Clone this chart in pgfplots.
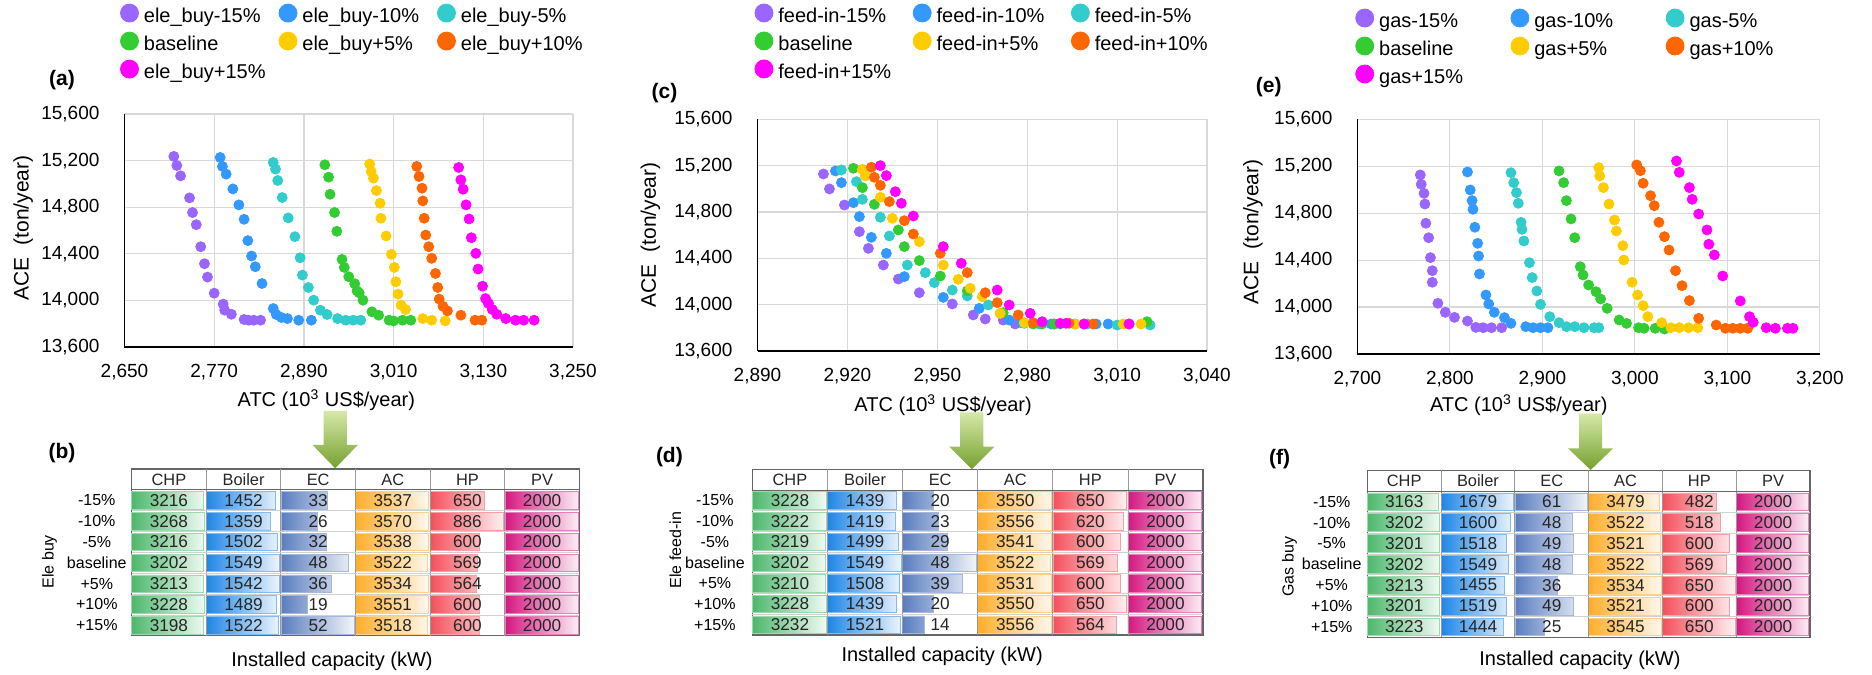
\documentclass[border=0pt]{standalone}
\usepackage{pgfplots}
\pgfplotsset{compat=1.18}
\usepackage{pgfplotstable}
\usepackage{fontspec}
\setmainfont{Liberation Sans}

\definecolor{cP}{HTML}{9966FF}
\definecolor{cB}{HTML}{3399FF}
\definecolor{cC}{HTML}{33CCCC}
\definecolor{cG}{HTML}{33CC33}
\definecolor{cY}{HTML}{FFCC00}
\definecolor{cO}{HTML}{FF6600}
\definecolor{cM}{HTML}{FF00FF}
\definecolor{tCHP}{HTML}{4DB86C}
\definecolor{tBoil}{HTML}{1E86E6}
\definecolor{tEC}{HTML}{5A7DBF}
\definecolor{tAC}{HTML}{FFAD2A}
\definecolor{tHP}{HTML}{F4505B}
\definecolor{tPV}{HTML}{D4177F}
\definecolor{arTop}{HTML}{D6E8A8}
\definecolor{arBot}{HTML}{74A12E}

\pgfplotsset{
  scat/.style={
    scale only axis,
    axis x line*=bottom, axis y line*=left,
    axis line style={black, line width=0.8pt},
    grid=major, grid style={black!15, line width=0.6pt},
    major tick length=0pt,
    ymin=13600, ymax=15600, ytick={13600,14000,14400,14800,15200,15600},
    scaled ticks=false,
    /pgf/number format/1000 sep={,},
    /pgf/number format/assume math mode=true,
    ticklabel style={font=\fontsize{9.5}{11}\selectfont},
    yticklabel style={xshift=-9pt},
    xticklabel style={yshift=-5.3pt},
    xlabel={ATC (10\textsuperscript{3} US\$/year)},
    ylabel={ACE\hspace{0.3em} (ton/year)},
    xlabel style={font=\fontsize{10}{12}\selectfont, anchor=center},
    ylabel style={font=\fontsize{10.5}{12}\selectfont, anchor=center},
    legend columns=3,
    legend style={draw=none, fill=none, inner sep=0pt, column sep=0pt, row sep=-0.9pt, anchor=north west,
      nodes={inner sep=2.7pt, text height=7.5pt, text depth=2pt, align=left, font=\fontsize{10}{12}\selectfont}},
  },
  mk/.style={only marks, mark=*, mark size=2.5pt, color=#1, mark options={draw=none, fill=#1},
    legend image code/.code={\draw[##1, /tikz/mark size=4.5pt] plot coordinates {(4.4pt,2.2pt)};}},
  tbl/.style={
    scale only axis,
    xmin=0, xmax=6, ymin=0, ymax=8,
    xbar stacked, bar width=0.84,
    axis line style={draw=black!60, line width=0.6pt},
    xtick=\empty,
    ytick={0.5,1.5,2.5,3.5,4.5,5.5,6.5},
    yticklabels={+15\%,+10\%,+5\%,baseline,-5\%,-10\%,-15\%},
    major tick length=0pt,
    yticklabel style={anchor=center, font=\fontsize{8}{9.6}\selectfont},
    clip=false,
  },
}
\tikzset{tn/.style={font=\fontsize{8.6}{9.6}\selectfont, text=black!85, inner sep=0pt},
         th/.style={font=\fontsize{8.2}{9.6}\selectfont, text=black!85, inner sep=0pt}}

\newcommand{\databar}[4]{%
  \addplot[draw=#4!55!white, line width=0.25pt, left color=#4, right color=#4!8!white]
     table[y=pos, x expr={0.98*\thisrow{#2}/#3}] {#1};
  \addplot[draw=none, fill=none] table[y=pos, x expr={1-0.98*\thisrow{#2}/#3}] {#1};
}
\newcommand{\trow}[7]{%
  \node[tn] at (axis cs:0.5,#1) {#2};
  \node[tn] at (axis cs:1.5,#1) {#3};
  \node[tn] at (axis cs:2.5,#1) {#4};
  \node[tn] at (axis cs:3.5,#1) {#5};
  \node[tn] at (axis cs:4.5,#1) {#6};
  \node[tn] at (axis cs:5.5,#1) {#7};
}
\newcommand{\tframe}{%
  \draw[black!40, line width=0.4pt] (axis cs:1,0) -- (axis cs:1,8);
  \draw[black!40, line width=0.4pt] (axis cs:2,0) -- (axis cs:2,8);
  \draw[black!40, line width=0.4pt] (axis cs:3,0) -- (axis cs:3,8);
  \draw[black!40, line width=0.4pt] (axis cs:4,0) -- (axis cs:4,8);
  \draw[black!40, line width=0.4pt] (axis cs:5,0) -- (axis cs:5,8);
  \draw[black!18, line width=0.3pt] (axis cs:0,1) -- (axis cs:6,1);
  \draw[black!18, line width=0.3pt] (axis cs:0,2) -- (axis cs:6,2);
  \draw[black!18, line width=0.3pt] (axis cs:0,3) -- (axis cs:6,3);
  \draw[black!18, line width=0.3pt] (axis cs:0,4) -- (axis cs:6,4);
  \draw[black!18, line width=0.3pt] (axis cs:0,5) -- (axis cs:6,5);
  \draw[black!18, line width=0.3pt] (axis cs:0,6) -- (axis cs:6,6);
  \draw[black!60, line width=0.5pt] (axis cs:0,7) -- (axis cs:6,7);
  \node[th] at (axis cs:0.5,7.5) {CHP};
  \node[th] at (axis cs:1.5,7.5) {Boiler};
  \node[th] at (axis cs:2.5,7.5) {EC};
  \node[th] at (axis cs:3.5,7.5) {AC};
  \node[th] at (axis cs:4.5,7.5) {HP};
  \node[th] at (axis cs:5.5,7.5) {PV};
}
\newcommand{\cellsB}{%
  \tframe
  \trow{6.5}{3216}{1452}{33}{3537}{650}{2000}
  \trow{5.5}{3268}{1359}{26}{3570}{886}{2000}
  \trow{4.5}{3216}{1502}{32}{3538}{600}{2000}
  \trow{3.5}{3202}{1549}{48}{3522}{569}{2000}
  \trow{2.5}{3213}{1542}{36}{3534}{564}{2000}
  \trow{1.5}{3228}{1489}{19}{3551}{600}{2000}
  \trow{0.5}{3198}{1522}{52}{3518}{600}{2000}
}
\newcommand{\cellsD}{%
  \tframe
  \trow{6.5}{3228}{1439}{20}{3550}{650}{2000}
  \trow{5.5}{3222}{1419}{23}{3556}{620}{2000}
  \trow{4.5}{3219}{1499}{29}{3541}{600}{2000}
  \trow{3.5}{3202}{1549}{48}{3522}{569}{2000}
  \trow{2.5}{3210}{1508}{39}{3531}{600}{2000}
  \trow{1.5}{3228}{1439}{20}{3550}{650}{2000}
  \trow{0.5}{3232}{1521}{14}{3556}{564}{2000}
}
\newcommand{\cellsF}{%
  \tframe
  \trow{6.5}{3163}{1679}{61}{3479}{482}{2000}
  \trow{5.5}{3202}{1600}{48}{3522}{518}{2000}
  \trow{4.5}{3201}{1518}{49}{3521}{600}{2000}
  \trow{3.5}{3202}{1549}{48}{3522}{569}{2000}
  \trow{2.5}{3213}{1455}{36}{3534}{650}{2000}
  \trow{1.5}{3201}{1519}{49}{3521}{600}{2000}
  \trow{0.5}{3223}{1444}{25}{3545}{650}{2000}
}

\pgfplotstableread{
pos CHP Boiler EC AC HP PV
6.5 3216 1452 33 3537 650 2000
5.5 3268 1359 26 3570 886 2000
4.5 3216 1502 32 3538 600 2000
3.5 3202 1549 48 3522 569 2000
2.5 3213 1542 36 3534 564 2000
1.5 3228 1489 19 3551 600 2000
0.5 3198 1522 52 3518 600 2000
}\tabB
\pgfplotstableread{
pos CHP Boiler EC AC HP PV
6.5 3228 1439 20 3550 650 2000
5.5 3222 1419 23 3556 620 2000
4.5 3219 1499 29 3541 600 2000
3.5 3202 1549 48 3522 569 2000
2.5 3210 1508 39 3531 600 2000
1.5 3228 1439 20 3550 650 2000
0.5 3232 1521 14 3556 564 2000
}\tabD
\pgfplotstableread{
pos CHP Boiler EC AC HP PV
6.5 3163 1679 61 3479 482 2000
5.5 3202 1600 48 3522 518 2000
4.5 3201 1518 49 3521 600 2000
3.5 3202 1549 48 3522 569 2000
2.5 3213 1455 36 3534 650 2000
1.5 3201 1519 49 3521 600 2000
0.5 3223 1444 25 3545 650 2000
}\tabF

\begin{document}
\begin{tikzpicture}
\useasboundingbox (0,0) rectangle (936pt,337pt);

% ---------------- (a) ----------------
\begin{axis}[scat, at={(62.25pt,163.5pt)}, anchor=south west, width=224.25pt, height=116.5pt,
  xmin=2650, xmax=3250, xtick={2650,2770,2890,3010,3130,3250},
  xlabel style={at={(axis description cs:0.450,-0.2275)}},
  ylabel style={at={(axis description cs:-0.226,0.511)}},
  legend style={at={(-0.0098,1.48)}, nodes={text width=64.85pt}}]
\addplot[mk=cP] coordinates {(2716,15236) (2720,15158) (2725,15069) (2737,14880) (2741,14754) (2746,14650) (2752,14461) (2757,14315) (2761,14200) (2770,14062) (2782,13968) (2784,13916) (2793,13881) (2810,13836) (2816,13830) (2823,13830) (2832,13830)};
\addlegendentry{ele\_buy-15\%}
\addplot[mk=cB] coordinates {(2778,15227) (2781,15150) (2786,15084) (2795,14957) (2803,14820) (2810,14696) (2815,14513) (2820,14381) (2825,14289) (2834,14145) (2849,13930) (2853,13879) (2860,13853) (2868,13844) (2883,13830) (2900,13830)};
\addlegendentry{ele\_buy-10\%}
\addplot[mk=cC] coordinates {(2849,15184) (2852,15127) (2855,15029) (2861,14883) (2869,14708) (2878,14547) (2885,14366) (2888,14217) (2896,14111) (2903,14002) (2912,13916) (2921,13879) (2935,13844) (2946,13830) (2956,13830) (2966,13830)};
\addlegendentry{ele\_buy-5\%}
\addplot[mk=cG] coordinates {(2918,15164) (2923,15058) (2925,14911) (2931,14754) (2934,14593) (2941,14352) (2944,14283) (2950,14203) (2958,14143) (2961,14082) (2964,14065) (2969,14002) (2981,13902) (2990,13873) (3004,13830) (3010,13824) (3022,13830) (3033,13830)};
\addlegendentry{baseline}
\addplot[mk=cY] coordinates {(2978,15170) (2980,15107) (2983,15049) (2987,14943) (2992,14834) (2993,14705) (3000,14553) (3007,14395) (3011,14283) (3013,14160) (3016,14054) (3020,13959) (3026,13922) (3049,13844) (3061,13830) (3079,13824)};
\addlegendentry{ele\_buy+5\%}
\addplot[mk=cO] coordinates {(3041,15150) (3044,15064) (3048,14963) (3049,14854) (3051,14705) (3053,14561) (3057,14461) (3061,14361) (3066,14231) (3069,14111) (3071,14011) (3076,13950) (3082,13910) (3100,13873) (3119,13830) (3128,13830)};
\addlegendentry{ele\_buy+10\%}
\addplot[mk=cM] coordinates {(3097,15141) (3100,15035) (3103,14954) (3107,14820) (3111,14699) (3114,14538) (3120,14404) (3123,14269) (3129,14122) (3133,14016) (3137,13973) (3142,13922) (3148,13881) (3160,13844) (3173,13830) (3184,13830) (3198,13830)};
\addlegendentry{ele\_buy+15\%}
\end{axis}

% ---------------- (c) ----------------
\begin{axis}[scat, at={(378.75pt,161.5pt)}, anchor=south west, width=224.75pt, height=115.85pt,
  xmin=2890, xmax=3040, xtick={2890,2920,2950,2980,3010,3040},
  xlabel style={at={(axis description cs:0.413,-0.233)}},
  ylabel style={at={(axis description cs:-0.238,0.5)}},
  legend style={at={(-0.0065,1.506)}, nodes={text width=64.7pt}}]
\addplot[mk=cP] coordinates {(2912,15128) (2914,14999) (2919,14860) (2924,14630) (2927,14486) (2932,14342) (2937,14221) (2944,14103) (2955,14006) (2962,13911) (2966,13876) (2972,13867) (2976,13833) (2989,13833) (2999,13833)};
\addlegendentry{feed-in-15\%}
\addplot[mk=cB] coordinates {(2916,15154) (2918,15053) (2922,14880) (2924,14760) (2928,14581) (2933,14443) (2939,14242) (2952,14063) (2964,13968) (2974,13867) (2978,13844) (2988,13833) (2996,13833) (3003,13833) (3007,13833)};
\addlegendentry{feed-in-10\%}
\addplot[mk=cC] coordinates {(2918,15163) (2923,15062) (2925,14909) (2931,14754) (2934,14593) (2940,14342) (2946,14276) (2949,14190) (2955,14126) (2960,14075) (2967,13997) (2971,13925) (2979,13839) (2984,13833) (2991,13833) (3000,13833) (3010,13824) (3021,13824)};
\addlegendentry{feed-in-5\%}
\addplot[mk=cG] coordinates {(2922,15177) (2925,15010) (2929,14866) (2937,14645) (2939,14501) (2944,14380) (2951,14247) (2960,14118) (2972,13931) (2982,13833) (2985,13833) (2989,13833) (3020,13853)};
\addlegendentry{baseline}
\addplot[mk=cY] coordinates {(2925,15168) (2926,15111) (2931,14927) (2935,14745) (2944,14544) (2952,14342) (2957,14219) (2961,14141) (2965,14069) (2971,13925) (2979,13844) (2996,13833) (3012,13833) (3018,13833)};
\addlegendentry{feed-in+5\%}
\addplot[mk=cO] coordinates {(2928,15186) (2929,15099) (2931,15030) (2934,14889) (2939,14725) (2942,14610) (2951,14443) (2960,14276) (2966,14103) (2970,14017) (2977,13911) (2982,13844) (2994,13839) (3002,13833) (3014,13833)};
\addlegendentry{feed-in+10\%}
\addplot[mk=cM] coordinates {(2931,15200) (2933,15114) (2936,14975) (2938,14875) (2942,14765) (2952,14501) (2958,14357) (2970,14126) (2974,13997) (2981,13925) (2985,13853) (2991,13839) (2993,13839) (2999,13833) (3014,13833)};
\addlegendentry{feed-in+15\%}
\end{axis}

% ---------------- (e) ----------------
\begin{axis}[scat, at={(678.7pt,160pt)}, anchor=south west, width=231.2pt, height=117.35pt,
  xmin=2700, xmax=3200, xtick={2700,2800,2900,3000,3100,3200},
  xlabel style={at={(axis description cs:0.349,-0.217)}},
  ylabel style={at={(axis description cs:-0.226,0.52)}},
  legend style={at={(-0.0045,1.478)}, nodes={text width=63.2pt}}]
\addplot[mk=cP] coordinates {(2768,15126) (2769,15046) (2772,14969) (2773,14878) (2774,14714) (2777,14591) (2779,14421) (2781,14310) (2781,14211) (2787,14032) (2795,13955) (2805,13912) (2819,13881) (2828,13827) (2836,13824) (2845,13824) (2856,13824)};
\addlegendentry{gas-15\%}
\addplot[mk=cB] coordinates {(2819,15151) (2822,14998) (2824,14907) (2825,14833) (2827,14680) (2830,14543) (2831,14435) (2832,14282) (2839,14103) (2842,14026) (2848,13955) (2859,13910) (2866,13861) (2882,13833) (2890,13824) (2898,13824) (2906,13824)};
\addlegendentry{gas-10\%}
\addplot[mk=cC] coordinates {(2866,15145) (2869,15060) (2872,14975) (2874,14884) (2877,14722) (2878,14662) (2880,14563) (2886,14378) (2889,14251) (2894,14137) (2898,14023) (2908,13918) (2918,13867) (2926,13833) (2935,13833) (2945,13824) (2956,13824) (2961,13824)};
\addlegendentry{gas-5\%}
\addplot[mk=cG] coordinates {(2918,15160) (2923,15060) (2926,14907) (2931,14751) (2935,14591) (2941,14344) (2944,14273) (2950,14188) (2958,14131) (2963,14069) (2970,13989) (2983,13890) (2991,13861) (3004,13824) (3010,13819) (3022,13819) (3032,13813)};
\addlegendentry{baseline}
\addplot[mk=cY] coordinates {(2961,15188) (2962,15117) (2966,15018) (2972,14878) (2978,14742) (2980,14648) (2987,14523) (2988,14401) (2997,14211) (3003,14103) (3009,14012) (3014,13918) (3029,13867) (3039,13824) (3048,13824) (3058,13824) (3068,13824)};
\addlegendentry{gas+5\%}
\addplot[mk=cO] coordinates {(3002,15211) (3006,15162) (3009,15055) (3017,14949) (3021,14864) (3026,14722) (3032,14600) (3037,14486) (3044,14310) (3051,14182) (3059,14055) (3069,13904) (3088,13847) (3098,13819) (3106,13819) (3114,13819) (3122,13819)};
\addlegendentry{gas+10\%}
\addplot[mk=cM] coordinates {(3045,15245) (3048,15148) (3059,15018) (3062,14918) (3069,14793) (3078,14657) (3080,14535) (3086,14444) (3095,14265) (3114,14052) (3124,13918) (3128,13870) (3142,13824) (3152,13819) (3165,13819) (3171,13819)};
\addlegendentry{gas+15\%}
\end{axis}

% ---------------- tables ----------------
\begin{axis}[tbl, at={(65.8pt,19.15pt)}, anchor=south west, width=223.9pt, height=83.35pt,
  yticklabel style={xshift=-17.4pt}, after end axis/.code={\cellsB}]
\databar{\tabB}{CHP}{3268}{tCHP}
\databar{\tabB}{Boiler}{1549}{tBoil}
\databar{\tabB}{EC}{52}{tEC}
\databar{\tabB}{AC}{3570}{tAC}
\databar{\tabB}{HP}{886}{tHP}
\databar{\tabB}{PV}{2000}{tPV}
\end{axis}

\begin{axis}[tbl, at={(376.2pt,19.5pt)}, anchor=south west, width=225.3pt, height=82.85pt,
  yticklabel style={xshift=-18.75pt}, after end axis/.code={\cellsD}]
\databar{\tabD}{CHP}{3232}{tCHP}
\databar{\tabD}{Boiler}{1549}{tBoil}
\databar{\tabD}{EC}{48}{tEC}
\databar{\tabD}{AC}{3556}{tAC}
\databar{\tabD}{HP}{650}{tHP}
\databar{\tabD}{PV}{2000}{tPV}
\end{axis}

\begin{axis}[tbl, at={(683.65pt,18.35pt)}, anchor=south west, width=221.35pt, height=83.5pt,
  yticklabel style={xshift=-17.8pt}, after end axis/.code={\cellsF}]
\databar{\tabF}{CHP}{3223}{tCHP}
\databar{\tabF}{Boiler}{1679}{tBoil}
\databar{\tabF}{EC}{61}{tEC}
\databar{\tabF}{AC}{3545}{tAC}
\databar{\tabF}{HP}{650}{tHP}
\databar{\tabF}{PV}{2000}{tPV}
\end{axis}

% ---------------- arrows ----------------
\shade[top color=arTop, bottom color=arBot] (161.8pt,131.5pt) -- (173.4pt,131.5pt) -- (173.4pt,114.5pt) -- (178.9pt,114.5pt) -- (167.6pt,102.85pt) -- (156.3pt,114.5pt) -- (161.8pt,114.5pt) -- cycle;
\shade[top color=arTop, bottom color=arBot] (480.1pt,130.85pt) -- (491.7pt,130.85pt) -- (491.7pt,113.65pt) -- (497.2pt,113.65pt) -- (485.9pt,102.35pt) -- (474.6pt,113.65pt) -- (480.1pt,113.65pt) -- cycle;
\shade[top color=arTop, bottom color=arBot] (789.5pt,130.35pt) -- (801.1pt,130.35pt) -- (801.1pt,112.85pt) -- (806.6pt,112.85pt) -- (795.3pt,102pt) -- (784pt,112.85pt) -- (789.5pt,112.85pt) -- cycle;

% ---------------- labels ----------------
\begin{scope}[every node/.style={font=\bfseries\fontsize{10.5}{12}\selectfont, inner sep=0pt}]
\node at (31pt,297pt) {(a)};
\node at (31pt,110.5pt) {(b)};
\node at (332.25pt,290.5pt) {(c)};
\node at (334.7pt,108.65pt) {(d)};
\node at (634.35pt,293.5pt) {(e)};
\node at (639.75pt,107.5pt) {(f)};
\end{scope}
\begin{scope}[every node/.style={font=\fontsize{8}{9.6}\selectfont, inner sep=0pt, rotate=90}]
\node at (24.7pt,56.15pt) {Ele buy};
\node at (337.65pt,62pt) {Ele feed-in};
\node at (644.7pt,53.65pt) {Gas buy};
\end{scope}
\begin{scope}[every node/.style={font=\fontsize{10}{12}\selectfont, inner sep=0pt}]
\node at (166pt,6.15pt) {Installed capacity (kW)};
\node at (471.05pt,8.65pt) {Installed capacity (kW)};
\node at (789.95pt,7pt) {Installed capacity (kW)};
\end{scope}
\end{tikzpicture}
\end{document}
